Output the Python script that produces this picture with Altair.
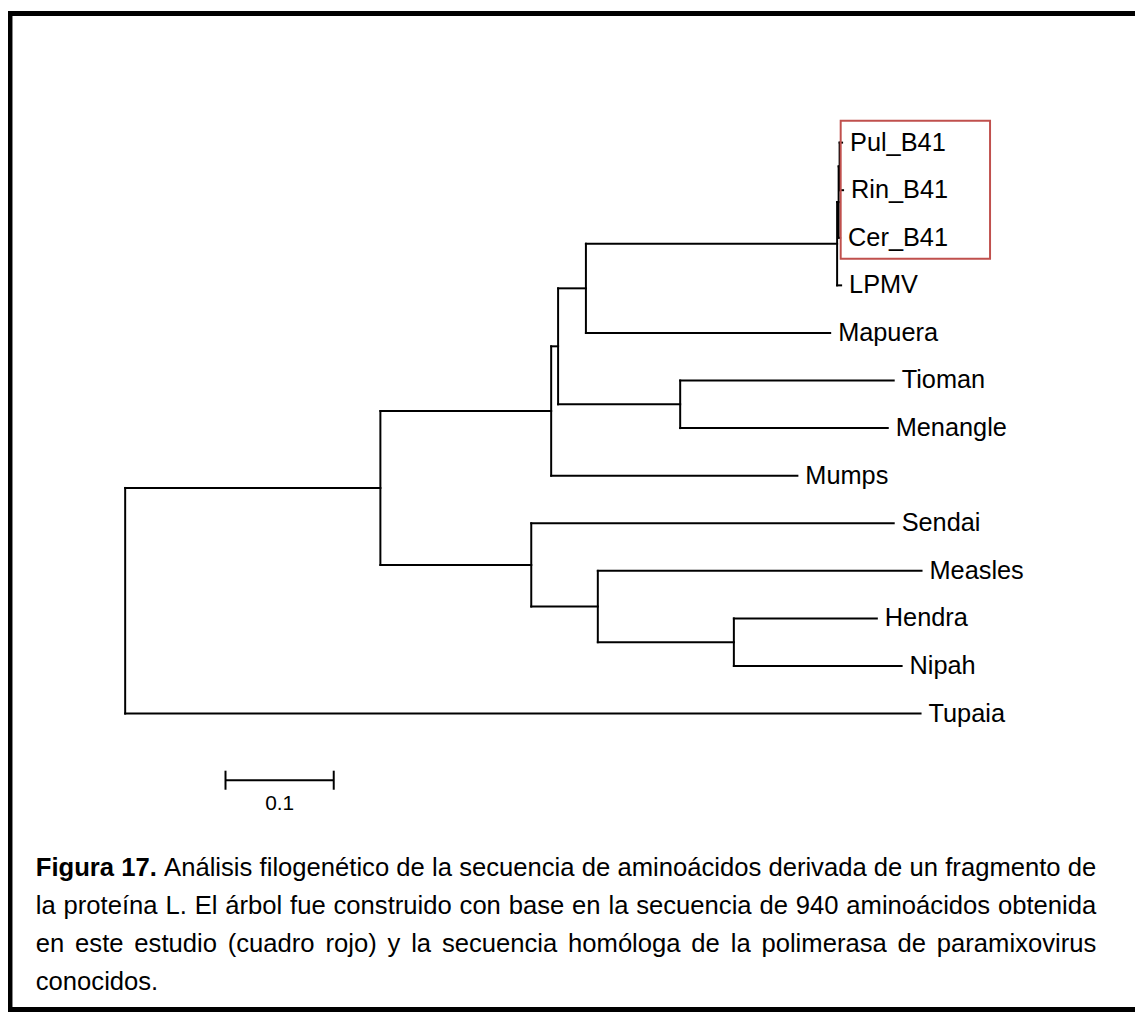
import altair as alt
import pandas as pd

# ---------------- data ----------------
leaves = ["Pul_B41", "Rin_B41", "Cer_B41", "LPMV", "Mapuera", "Tioman", "Menangle",
          "Mumps", "Sendai", "Measles", "Hendra", "Nipah", "Tupaia"]
# distance from the root (substitutions per site)
leaf_depth = [0.6624, 0.6633, 0.6606, 0.6615, 0.6514, 0.7101, 0.7046,
              0.6211, 0.7101, 0.7358, 0.6945, 0.7174, 0.7349]

node_names = ["I", "H", "G", "E", "F", "D", "C", "B3", "B2", "B", "A", "root"]
node_depth = [0.6601, 0.6592, 0.6578, 0.4257, 0.5128, 0.4000, 0.3936,
              0.5624, 0.4367, 0.3752, 0.2358, 0.0]
node_children = [["Pul_B41", "Rin_B41"], ["I", "Cer_B41"], ["H", "LPMV"],
                 ["G", "Mapuera"], ["Tioman", "Menangle"], ["E", "F"],
                 ["D", "Mumps"], ["Hendra", "Nipah"], ["Measles", "B3"],
                 ["Sendai", "B2"], ["C", "B"], ["A", "Tupaia"]]

highlight_leaves = ["Pul_B41", "Rin_B41", "Cer_B41"]
box_right = 0.7991

scale_bar_start = 0.0927
scale_bar_len = 0.1
scale_bar_label = "0.1"

caption_lines = [
    "Figura 17. Análisis filogenético de la secuencia de aminoácidos derivada de un fragmento de",
    "la proteína L. El árbol fue construido con base en la secuencia de 940 aminoácidos obtenida",
    "en este estudio (cuadro rojo) y la secuencia homóloga de la polimerasa de paramixovirus",
    "conocidos.",
]
caption_bold_words = 2

# ---------------- layout ----------------
W, H = 1135, 1007
X_DOMAIN = [-0.10826, 0.93303]
Y_DOMAIN = [-2.7546, 18.260]
FONT = "Liberation Sans"
LABEL_SIZE = 25.5
CAP_SIZE = 25.8

# tree geometry
ypos = {name: i for i, name in enumerate(leaves)}
xpos = {name: d for name, d in zip(leaves, leaf_depth)}
for name, d, ch in zip(node_names, node_depth, node_children):
    xpos[name] = d
    ypos[name] = sum(ypos[c] for c in ch) / len(ch)

segs = []
for name, d, ch in zip(node_names, node_depth, node_children):
    ys_ = [ypos[c] for c in ch]
    segs.append(dict(x1=d, x2=d, y1=min(ys_), y2=max(ys_)))
    for c in ch:
        segs.append(dict(x1=d, x2=xpos[c], y1=ypos[c], y2=ypos[c]))
seg_df = pd.DataFrame(segs)

leaf_df = pd.DataFrame({"leaf": leaves, "x": leaf_depth, "y": list(range(len(leaves)))})

hy = [ypos[l] for l in highlight_leaves]
box_df = pd.DataFrame([dict(x1=min(xpos[l] for l in highlight_leaves) + 0.0005, x2=box_right,
                            y1=min(hy) - 0.46, y2=max(hy) + 0.44)])

sb_y = 13.40
sb_df = pd.DataFrame([
    dict(x1=scale_bar_start, x2=scale_bar_start + scale_bar_len, y1=sb_y, y2=sb_y),
    dict(x1=scale_bar_start, x2=scale_bar_start, y1=sb_y - 0.2, y2=sb_y + 0.2),
    dict(x1=scale_bar_start + scale_bar_len, x2=scale_bar_start + scale_bar_len,
         y1=sb_y - 0.2, y2=sb_y + 0.2),
])
sbl_df = pd.DataFrame([dict(x=scale_bar_start + scale_bar_len / 2, y=13.91, t=scale_bar_label)])

# caption word layout (justified) using Arial/Liberation Sans metrics
REG = {' ': 278, '.': 278, ',': 278, '(': 333, ')': 333, '_': 556,
       'a': 556, 'b': 556, 'c': 500, 'd': 556, 'e': 556, 'f': 278, 'g': 556, 'h': 556,
       'i': 222, 'j': 222, 'k': 500, 'l': 222, 'm': 833, 'n': 556, 'o': 556, 'p': 556,
       'q': 556, 'r': 333, 's': 500, 't': 278, 'u': 556, 'v': 500, 'w': 722, 'x': 500,
       'y': 500, 'z': 500, 'á': 556, 'é': 556, 'í': 278, 'ó': 556, 'ú': 556,
       'A': 667, 'E': 667, 'F': 611, 'L': 556}
BOLD = {'F': 611, 'i': 278, 'g': 611, 'u': 611, 'r': 389, 'a': 556, '.': 278, ' ': 278}


def width(s, bold):
    tot = 0
    for ch in s:
        if ch.isdigit():
            tot += 556
        else:
            tot += (BOLD if bold else REG).get(ch, 556)
    return tot / 1000 * CAP_SIZE


CAP_LEFT, CAP_RIGHT = 28, 1096
CAP_Y = [863, 901, 939, 977]
words = []
for li, line in enumerate(caption_lines):
    ws = line.split(" ")
    bolds = [(li == 0 and wi < caption_bold_words) for wi in range(len(ws))]
    wid = [width(w, b) for w, b in zip(ws, bolds)]
    last = li == len(caption_lines) - 1
    gap = width(" ", False) if (last or len(ws) < 2) else (CAP_RIGHT - CAP_LEFT - sum(wid)) / (len(ws) - 1)
    x = CAP_LEFT
    for w, b, wd in zip(ws, bolds, wid):
        words.append(dict(t=w, x=x, y=CAP_Y[li], bold=b))
        x += wd + gap
cap_df = pd.DataFrame(words)

# ---------------- chart ----------------
xs = alt.Scale(domain=X_DOMAIN, nice=False, zero=False)
ys = alt.Scale(domain=Y_DOMAIN, nice=False, zero=False, reverse=True)

tree = alt.Chart(seg_df).mark_rule(color="black", strokeWidth=2, strokeCap="square").encode(
    x=alt.X("x1:Q", scale=xs, axis=None), x2="x2:Q",
    y=alt.Y("y1:Q", scale=ys, axis=None), y2="y2:Q")

labels = alt.Chart(leaf_df).mark_text(align="left", baseline="middle", dx=8,
                                      font=FONT, fontSize=LABEL_SIZE, color="black").encode(
    x=alt.X("x:Q", scale=xs, axis=None), y=alt.Y("y:Q", scale=ys, axis=None), text="leaf:N")

box = alt.Chart(box_df).mark_rect(fillOpacity=0, stroke="#c0504d", strokeWidth=2).encode(
    x=alt.X("x1:Q", scale=xs, axis=None), x2="x2:Q",
    y=alt.Y("y1:Q", scale=ys, axis=None), y2="y2:Q")

sbar = alt.Chart(sb_df).mark_rule(color="black", strokeWidth=2).encode(
    x=alt.X("x1:Q", scale=xs, axis=None), x2="x2:Q",
    y=alt.Y("y1:Q", scale=ys, axis=None), y2="y2:Q")

sblabel = alt.Chart(sbl_df).mark_text(align="center", baseline="middle", font=FONT,
                                      fontSize=21, color="black").encode(
    x=alt.X("x:Q", scale=xs, axis=None), y=alt.Y("y:Q", scale=ys, axis=None), text="t:N")

cap_reg = alt.Chart(cap_df).transform_filter("!datum.bold").mark_text(
    align="left", baseline="middle", font=FONT, fontSize=CAP_SIZE, color="black").encode(
    x=alt.X("x:Q", scale=None), y=alt.Y("y:Q", scale=None), text="t:N")
cap_bold = alt.Chart(cap_df).transform_filter("datum.bold").mark_text(
    align="left", baseline="middle", font=FONT, fontSize=CAP_SIZE, fontWeight="bold",
    color="black").encode(
    x=alt.X("x:Q", scale=None), y=alt.Y("y:Q", scale=None), text="t:N")

frame_left = alt.Chart(pd.DataFrame({"a": [0]})).mark_rule(color="black", strokeWidth=5).encode(
    x=alt.value(2), y=alt.value(0), y2=alt.value(H))
frame_top = alt.Chart(pd.DataFrame({"a": [0]})).mark_rule(color="black", strokeWidth=5).encode(
    x=alt.value(0), x2=alt.value(W), y=alt.value(2))
frame_bottom = alt.Chart(pd.DataFrame({"a": [0]})).mark_rule(color="black", strokeWidth=5).encode(
    x=alt.value(0), x2=alt.value(W), y=alt.value(H - 2))

chart = alt.layer(tree, box, labels, sbar, sblabel, cap_reg, cap_bold,
                  frame_left, frame_top, frame_bottom).properties(
    width=W, height=H, padding=0, autosize=alt.AutoSizeParams(type="none"),
    background="white").configure_view(stroke=None)

chart.save("out.html", embed_options={"renderer": "svg", "actions": False})
